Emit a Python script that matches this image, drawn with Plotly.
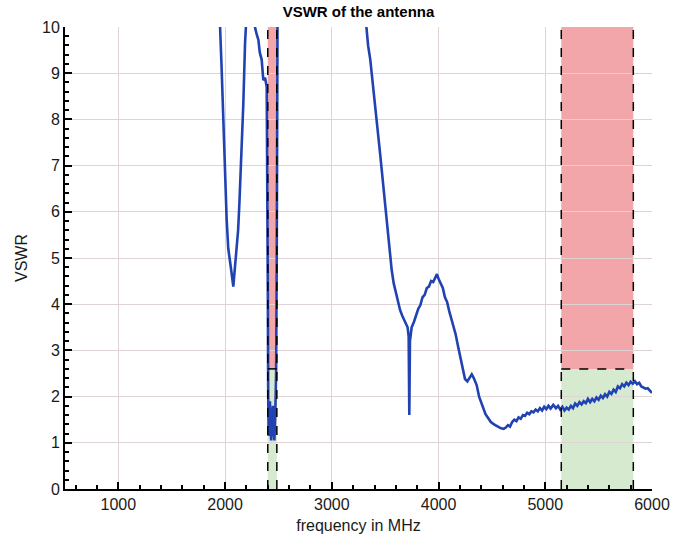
import plotly.graph_objects as go

# Measured antenna VSWR versus frequency (values above 10 run off the top of the plot)
freq_mhz = [
    1930, 1953, 1968, 1983, 1999, 2015, 2030, 2040, 2053, 2065, 2077, 2085, 2095,
    2109, 2122, 2134, 2156, 2171, 2187, 2198, 2240, 2270, 2280, 2295, 2312, 2325,
    2343, 2358, 2375, 2390, 2396, 2400, 2404, 2408, 2414, 2420, 2426, 2432, 2440,
    2448, 2456, 2462, 2470, 2478, 2484, 2488, 2492, 2600, 3000, 3300, 3320, 3340,
    3360, 3389, 3420, 3452, 3485, 3514, 3540, 3561, 3580, 3600, 3620, 3640, 3660,
    3690, 3710, 3720, 3726, 3732, 3748, 3770, 3790, 3810, 3830, 3850, 3870, 3890,
    3910, 3930, 3950, 3970, 3985, 4000, 4020, 4040, 4060, 4080, 4100, 4130, 4160,
    4186, 4210, 4230, 4248, 4270, 4290, 4311, 4330, 4357, 4380, 4410, 4440, 4466,
    4490, 4520, 4550, 4580, 4610, 4630, 4650, 4670, 4690, 4710, 4730, 4750, 4770,
    4790, 4810, 4830, 4850, 4870, 4890, 4910, 4930, 4950, 4970, 4990, 5010, 5030,
    5050, 5075, 5100, 5120, 5140, 5160, 5180, 5200, 5220, 5240, 5260, 5280, 5300,
    5320, 5340, 5360, 5380, 5400, 5420, 5440, 5460, 5480, 5500, 5520, 5540, 5560,
    5580, 5600, 5620, 5640, 5660, 5680, 5700, 5720, 5740, 5760, 5780, 5800, 5820,
    5840, 5860, 5880, 5900, 5920, 5940, 5960, 5980, 6000,
]
vswr = [
    10.8, 10.0, 9.07, 7.99, 6.9, 5.82, 5.2, 4.96, 4.81, 4.6, 4.38, 4.6, 4.85,
    5.1, 5.6, 6.18, 7.27, 8.35, 9.65, 10.3, 12.0, 10.8, 10.0, 9.85, 9.72, 9.45,
    9.29, 8.85, 8.9, 8.7, 7.0, 4.5, 2.0, 1.15, 1.6, 1.9, 1.3, 1.05, 1.45,
    1.8, 1.25, 1.05, 1.6, 2.5, 5.0, 8.5, 10.6, 14.0, 16.0, 10.6, 10.0, 9.6,
    9.3, 8.7, 8.0, 7.27, 6.5, 5.82, 5.2, 4.74, 4.45, 4.25, 4.05, 3.87, 3.75,
    3.6, 3.5, 3.3, 1.6, 3.2, 3.5, 3.62, 3.75, 3.9, 3.98, 4.15, 4.2, 4.35,
    4.38, 4.5, 4.48, 4.6, 4.65, 4.55, 4.45, 4.35, 4.15, 4.05, 3.85, 3.6, 3.35,
    3.05, 2.8, 2.55, 2.38, 2.33, 2.42, 2.48, 2.4, 2.25, 2.0, 1.8, 1.62, 1.53,
    1.45, 1.4, 1.35, 1.32, 1.3, 1.33, 1.38, 1.35, 1.45, 1.5, 1.47, 1.55, 1.52,
    1.6, 1.58, 1.65, 1.62, 1.68, 1.66, 1.72, 1.68, 1.75, 1.7, 1.78, 1.73, 1.8,
    1.74, 1.82, 1.75, 1.8, 1.72, 1.78, 1.7, 1.76, 1.72, 1.8, 1.75, 1.85, 1.8,
    1.88, 1.83, 1.9, 1.86, 1.95, 1.88, 1.95, 1.9, 1.98, 1.93, 2.02, 1.97, 2.05,
    2.0, 2.1, 2.06, 2.15, 2.1, 2.22, 2.18, 2.27, 2.22, 2.3, 2.25, 2.32, 2.28,
    2.33, 2.27, 2.3, 2.22, 2.2, 2.17, 2.18, 2.12, 2.08,
]

# Wi-Fi bands (MHz) and the acceptable VSWR limit
band_24 = [2400, 2485]
band_5 = [5150, 5825]
vswr_limit = 2.6
y_top = 10

font_family = "Arial, Liberation Sans, sans-serif"
red_fill = "rgb(243,166,170)"
green_fill = "rgb(214,234,208)"

fig = go.Figure()

shapes = []
for lo, hi in (band_24, band_5):
    # red region: VSWR above the limit
    shapes.append(dict(type="rect", xref="x", yref="y", x0=lo, x1=hi, y0=vswr_limit, y1=y_top,
                       fillcolor=red_fill, line=dict(width=0), layer="below"))
    # green region: VSWR within the limit
    shapes.append(dict(type="rect", xref="x", yref="y", x0=lo, x1=hi, y0=0, y1=vswr_limit,
                       fillcolor=green_fill, line=dict(width=0), layer="below"))
    for xv in (lo, hi):
        shapes.append(dict(type="line", xref="x", yref="y", x0=xv, x1=xv, y0=0, y1=y_top,
                           line=dict(color="black", width=1.5, dash="dash"), layer="above"))
    shapes.append(dict(type="line", xref="x", yref="y", x0=lo, x1=hi, y0=vswr_limit, y1=vswr_limit,
                       line=dict(color="black", width=1.5, dash="dash"), layer="above"))

fig.add_trace(go.Scatter(
    x=freq_mhz, y=vswr, mode="lines",
    line=dict(color="rgb(33,66,178)", width=2.6),
    showlegend=False,
))

fig.update_layout(
    width=692, height=547,
    margin=dict(l=65, r=40, t=27, b=58),
    paper_bgcolor="white",
    plot_bgcolor="white",
    shapes=shapes,
    font=dict(family=font_family, color="#1a1a1a", size=16),
    title=dict(text="<b>VSWR of the antenna</b>", x=0.5, xanchor="center",
               xref="paper", y=1 - 12 / 547, yanchor="middle",
               font=dict(size=15, color="black", family=font_family)),
)

fig.update_xaxes(
    range=[500, 6000],
    tickvals=[1000, 2000, 3000, 4000, 5000, 6000],
    ticks="inside", ticklen=7, tickwidth=2, tickcolor="black",
    minor=dict(dtick=200, tick0=0, ticks="inside", ticklen=4, tickwidth=1.5,
               tickcolor="black", showgrid=False),
    showline=True, linecolor="black", linewidth=2,
    showgrid=True, gridcolor="rgb(222,212,212)", gridwidth=1,
    zeroline=False,
    title=dict(text="frequency in MHz", font=dict(size=16), standoff=8),
    tickfont=dict(size=16),
)

fig.update_yaxes(
    range=[0, y_top],
    dtick=1,
    ticks="inside", ticklen=7, tickwidth=2, tickcolor="black",
    minor=dict(dtick=0.2, ticks="inside", ticklen=4, tickwidth=1.5,
               tickcolor="black", showgrid=False),
    showline=True, linecolor="black", linewidth=2,
    showgrid=True, gridcolor="rgb(222,212,212)", gridwidth=1,
    zeroline=False,
    title=dict(text="VSWR", font=dict(size=16), standoff=10),
    tickfont=dict(size=16),
)

fig.write_html("out.html")
